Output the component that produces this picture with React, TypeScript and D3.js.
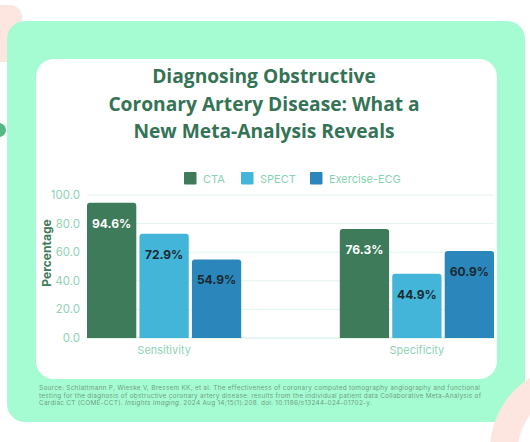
import React from "react";
import * as d3 from "d3";

const categories = ["Sensitivity", "Specificity"];
const seriesNames = ["CTA", "SPECT", "Exercise-ECG"];
const ctaValues = [94.6, 76.3];
const spectValues = [72.9, 44.9];
const ecgValues = [54.9, 60.9];
const yTicks = [0, 20, 40, 60, 80, 100];
const titleLines = [
  "Diagnosing Obstructive",
  "Coronary Artery Disease: What a",
  "New Meta-Analysis Reveals",
];

const colors = ["#3e7b5a", "#42b5d8", "#2a86bb"];
const labelColors = ["#ffffff", "#1b2a30", "#1b2a30"];

export default function App() {
  const W = 530, H = 442;
  const left = 87, right = 494, top = 195, bottom = 338;
  const x0 = d3.scaleBand<string>().domain(categories).range([left, right]).paddingInner(0.39).paddingOuter(0);
  const x1 = d3.scaleBand<string>().domain(seriesNames).range([0, x0.bandwidth()]).paddingInner(0.06);
  const y = d3.scaleLinear().domain([0, 100]).range([bottom, top]);
  const seriesValues = [ctaValues, spectValues, ecgValues];

  const roundTop = (x: number, yTop: number, w: number, h: number, r: number) => {
    return `M${x},${yTop + h}V${yTop + r}Q${x},${yTop} ${x + r},${yTop}H${x + w - r}Q${x + w},${yTop} ${x + w},${yTop + r}V${yTop + h}Z`;
  };

  const font = "Inter, 'Open Sans', sans-serif";
  const legendX = [184, 241, 310];

  return (
    <svg width={W} height={H} style={{ position: "absolute", left: 0, top: 0, background: "#ffffff" }}>
      <rect x={0} y={0} width={W} height={H} fill="#ffffff" />
      <rect x={-20} y={5} width={42} height={57} rx={12} fill="#fde6df" />
      <circle cx={-1} cy={130} r={7} fill="#55b984" />
      <rect x={7} y={21} width={518} height={401} rx={18} fill="#a6fcd2" />
      <path
        d={d3.arc()({ innerRadius: 57, outerRadius: 85, startAngle: 0, endAngle: Math.PI * 2 }) as string}
        transform="translate(575,450)"
        fill="#fde6df"
      />
      <rect x={36} y={59} width={461} height={320} rx={18} fill="#ffffff" />

      {titleLines.map((t, i) => (
        <text key={t} x={264} y={83 + i * 27.5} textAnchor="middle" fontFamily="'Open Sans', sans-serif" fontWeight={700} fontSize={19.2} fill="#357356">
          {t}
        </text>
      ))}

      {seriesNames.map((s, i) => (
        <g key={s}>
          <rect x={legendX[i]} y={172} width={12.5} height={12.5} fill={colors[i]} rx={1} />
          <text x={legendX[i] + 19} y={182.5} fontFamily={font} fontSize={11} fill="#86d3b0">{s}</text>
        </g>
      ))}

      {yTicks.map((t) => (
        <g key={t}>
          <line x1={left} x2={right} y1={y(t)} y2={y(t)} stroke={t === 0 ? "#c9ecdc" : "#e1f4eb"} strokeWidth={1} />
          <text x={80} y={y(t) + 4} textAnchor="end" fontFamily={font} fontSize={11.5} fill="#8fd3b4">{t.toFixed(1)}</text>
        </g>
      ))}

      <text transform={`translate(51,253) rotate(-90)`} textAnchor="middle" fontFamily={font} fontWeight={700} fontSize={12} fill="#3e7b5a">Percentage</text>

      {categories.map((c, ci) => (
        <g key={c}>
          {seriesNames.map((s, si) => {
            const v = seriesValues[si][ci];
            const bx = (x0(c) as number) + (x1(s) as number);
            const bw = x1.bandwidth();
            const by = y(v);
            return (
              <g key={s}>
                <path d={roundTop(bx, by, bw, bottom - by, 3)} fill={colors[si]} />
                <text x={bx + bw / 2} y={by + 25} textAnchor="middle" fontFamily={font} fontWeight={700} fontSize={12} fill={labelColors[si]}>
                  {v.toFixed(1)}%
                </text>
              </g>
            );
          })}
          <text x={(x0(c) as number) + x0.bandwidth() / 2} y={354} textAnchor="middle" fontFamily={font} fontSize={11} fill="#8fd3b4">{c}</text>
        </g>
      ))}

      <g fontFamily={font} fontSize={6.4} fill="#6e9f86" letterSpacing={0.28}>
        <text x={39} y={390}>Source: Schlattmann P, Wieske V, Bressem KK, et al. The effectiveness of coronary computed tomography angiography and functional</text>
        <text x={39} y={397.7}>testing for the diagnosis of obstructive coronary artery disease: results from the individual patient data Collaborative Meta-Analysis of</text>
        <text x={39} y={405.4}>Cardiac CT (COME-CCT). <tspan fontStyle="italic">Insights Imaging</tspan>. 2024 Aug 14;15(1):208. doi: 10.1186/s13244-024-01702-y.</text>
      </g>
    </svg>
  );
}
